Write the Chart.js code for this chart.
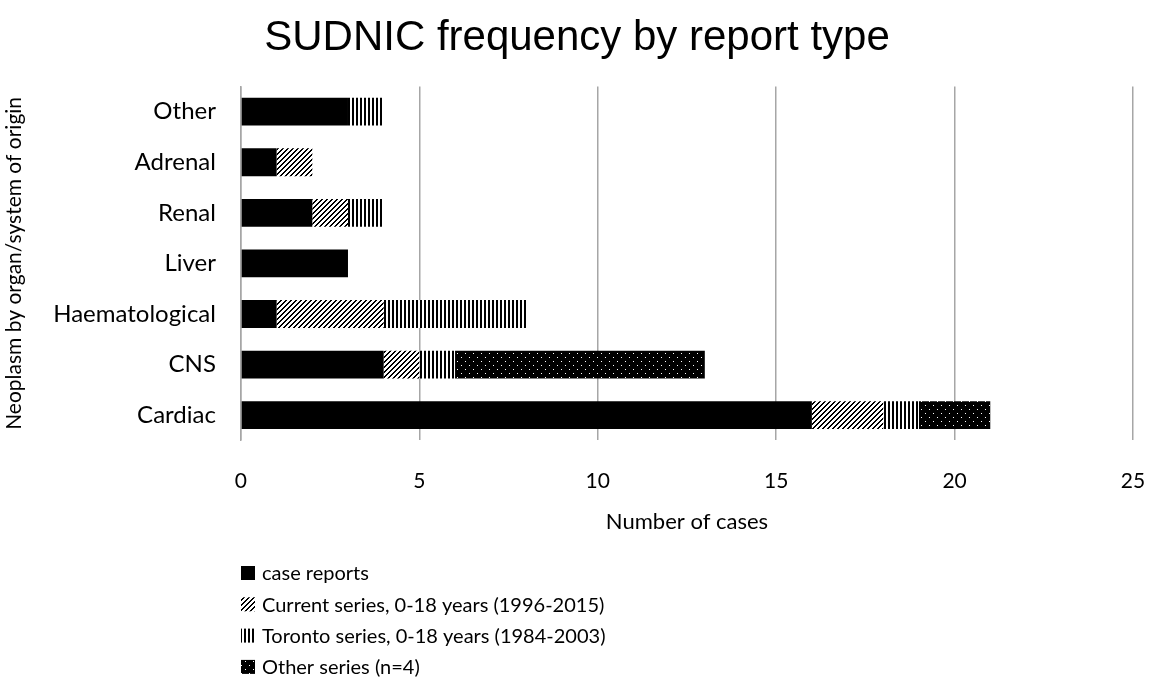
<!DOCTYPE html>
<html lang="en">
<head>
  <meta charset="UTF-8" />
  <title>SUDNIC frequency by report type</title>
  <script src="https://cdn.jsdelivr.net/npm/chart.js"></script>
  <style>
    html, body { margin: 0; padding: 0; background: #fff; }
    #wrap { width: 1152px; height: 685px; position: relative; }
  </style>
</head>
<body>
  <div id="wrap"><canvas id="chart" width="1152" height="685"></canvas></div>

  <script>
    const categories = ["Other", "Adrenal", "Renal", "Liver", "Haematological", "CNS", "Cardiac"];
    const caseReports = [3, 1, 2, 3, 1, 4, 16];
    const currentSeries = [0, 1, 1, 0, 3, 1, 2];
    const torontoSeries = [1, 0, 1, 0, 4, 1, 1];
    const otherSeries = [0, 0, 0, 0, 0, 7, 2];
    const xTicks = [0, 5, 10, 15, 20, 25];

    const labelFont = "Lato, 'Open Sans', sans-serif";

    // small tiled patterns like Excel's pattern fills
    function makePattern(w, h, isBlack) {
      const c = document.createElement("canvas");
      c.width = w; c.height = h;
      const ctx = c.getContext("2d");
      const img = ctx.createImageData(w, h);
      for (let y = 0; y < h; y++) {
        for (let x = 0; x < w; x++) {
          const v = isBlack(x, y) ? 0 : 255;
          const i = (y * w + x) * 4;
          img.data[i] = img.data[i + 1] = img.data[i + 2] = v;
          img.data[i + 3] = 255;
        }
      }
      ctx.putImageData(img, 0, 0);
      return document.createElement("canvas").getContext("2d").createPattern(c, "repeat");
    }

    const diagPattern = makePattern(5, 5, (x, y) => (x + y) % 5 < 2);
    const vertPattern = makePattern(4, 1, (x) => x % 4 < 2);
    const dotPattern = makePattern(8, 8, (x, y) => !((x === 1 && y === 1) || (x === 5 && y === 5)));

    const legendList = {
      id: "legendList",
      afterDraw(chart) {
        const ctx = chart.ctx;
        const x = 241, y0 = 573, gap = 31.3, box = 14;
        ctx.save();
        ctx.font = "20px " + labelFont;
        ctx.textBaseline = "middle";
        chart.data.datasets.forEach((ds, i) => {
          const y = y0 + i * gap;
          ctx.fillStyle = ds.backgroundColor;
          ctx.fillRect(x, y - box / 2, box, box);
          ctx.fillStyle = "#000";
          ctx.fillText(ds.label, x + 21, y + 1);
        });
        ctx.restore();
      }
    };

    new Chart(document.getElementById("chart"), {
      type: "bar",
      data: {
        labels: categories,
        datasets: [
          { label: "case reports", data: caseReports, backgroundColor: "#000" },
          { label: "Current series, 0-18 years (1996-2015)", data: currentSeries, backgroundColor: diagPattern },
          { label: "Toronto series, 0-18 years (1984-2003)", data: torontoSeries, backgroundColor: vertPattern },
          { label: "Other series (n=4)", data: otherSeries, backgroundColor: dotPattern }
        ]
      },
      options: {
        indexAxis: "y",
        responsive: false,
        animation: false,
        categoryPercentage: 0.55,
        barPercentage: 1.0,
        layout: { padding: { top: 0, right: 0, bottom: 150, left: 2 } },
        plugins: {
          legend: { display: false },
          tooltip: { enabled: false },
          title: {
            display: true,
            text: "SUDNIC frequency by report type",
            color: "#000",
            font: { family: "'Liberation Sans', Arial, sans-serif", size: 42, weight: "normal" },
            padding: { top: 13, bottom: 23 }
          }
        },
        scales: {
          x: {
            stacked: true,
            min: 0,
            max: 25,
            afterBuildTicks: axis => { axis.ticks = xTicks.map(v => ({ value: v })); },
            afterFit: axis => { axis.paddingRight = 19; },
            grid: { color: "#a6a6a6", lineWidth: 1.5, drawTicks: false },
            border: { display: false },
            ticks: { color: "#000", padding: 28, font: { family: labelFont, size: 21 } },
            title: {
              display: true,
              text: "Number of cases",
              color: "#000",
              font: { family: labelFont, size: 22 },
              padding: { top: -13, bottom: 0 }
            }
          },
          y: {
            stacked: true,
            grid: { display: false, drawTicks: false },
            border: { display: true, color: "#a6a6a6", width: 1.5 },
            ticks: { color: "#000", padding: 25, font: { family: labelFont, size: 24 } },
            title: {
              display: true,
              text: "Neoplasm by organ/system of origin",
              color: "#000",
              font: { family: labelFont, size: 21 },
              padding: { top: 0, bottom: 1 }
            }
          }
        }
      },
      plugins: [legendList]
    });
  </script>
</body>
</html>
